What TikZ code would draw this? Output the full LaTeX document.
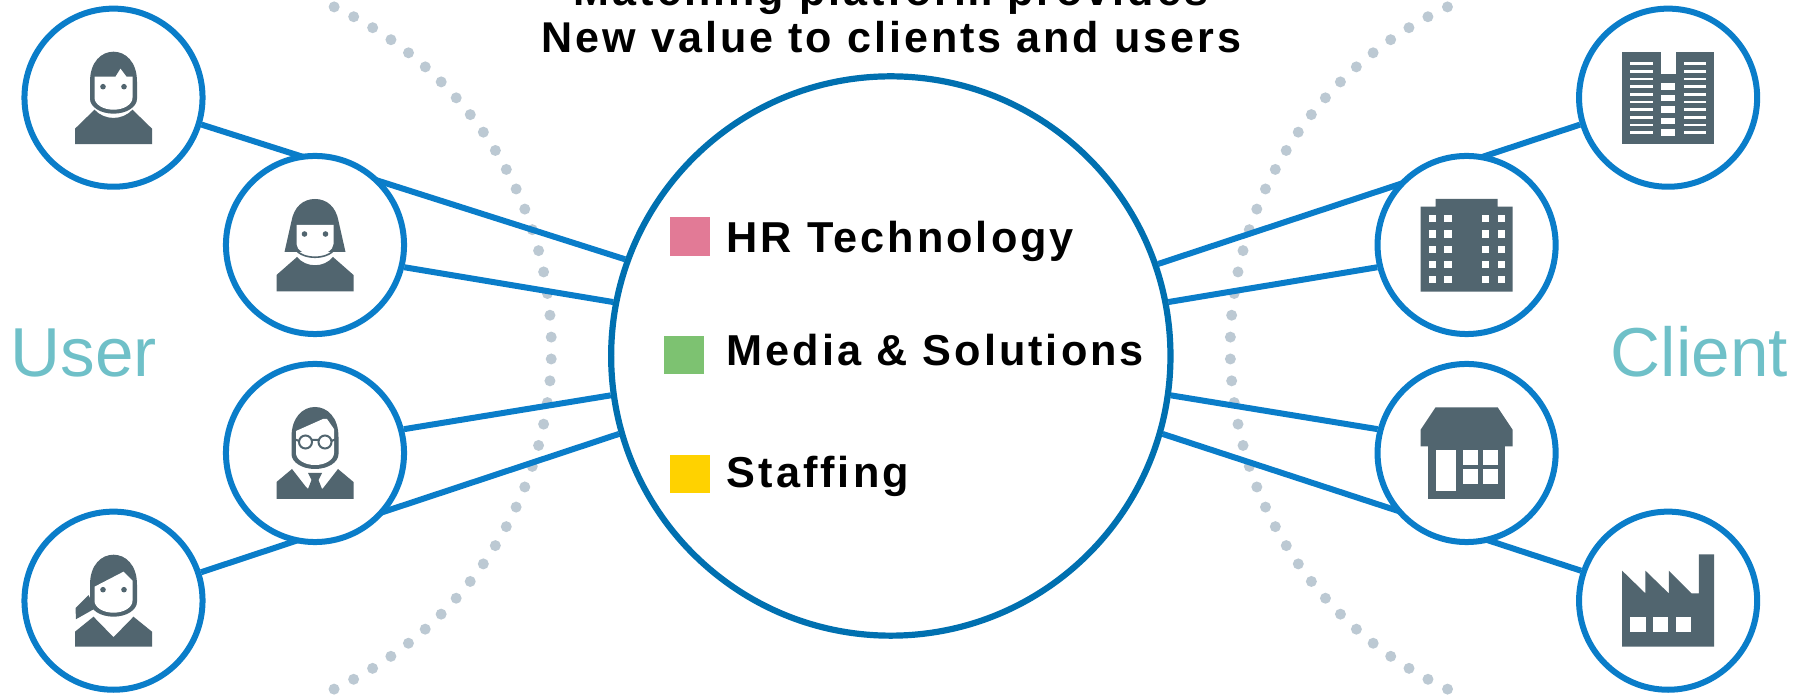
\documentclass[tikz,border=0pt]{standalone}
\usepackage{fontspec}
\setmainfont{Liberation Sans}
\newfontfamily\labelfont[LetterSpace=7]{Liberation Sans}
\usetikzlibrary{backgrounds}

\definecolor{ringBlue}{HTML}{0A7DC9}
\definecolor{hubBlue}{HTML}{0070B0}
\definecolor{iconGrey}{HTML}{51656F}
\definecolor{dotGrey}{HTML}{BCC9D3}
\definecolor{sideTeal}{HTML}{6FC0C8}
\definecolor{hrPink}{HTML}{E27A96}
\definecolor{mediaGreen}{HTML}{7DC271}
\definecolor{staffYellow}{HTML}{FFD200}

\tikzset{
	ring/.style={circle,draw=ringBlue,line width=.06cm,fill=white,inner sep=0pt,minimum size=1.78cm},
	hubring/.style={circle,draw=hubBlue,line width=.062cm,fill=white,inner sep=0pt,minimum size=5.59cm},
	link/.style={ringBlue,line width=.06cm},
	swatch/.style={inner sep=0pt,minimum width=.4cm,minimum height=.38cm},
	entry/.style={anchor=base west,inner sep=0pt,font=\labelfont\bfseries\fontsize{12.3pt}{14pt}\selectfont},
	headline/.style={anchor=base,inner sep=0pt,font=\labelfont\bfseries\fontsize{12.25pt}{14pt}\selectfont},
	side/.style={anchor=base west,inner sep=0pt,text=sideTeal,font=\fontsize{19.7pt}{23pt}\selectfont},
	icon/.style={fill=iconGrey},
	gap/.style={fill=white}
}

% head with a face cut out, used by all four people
\newcommand\headShape{\fill[icon] (-23.5,16) .. controls (-23.5,36) and (-12,46) .. (0,46) .. controls (12,46) and (23.5,36) .. (23.5,16) -- (23.5,-1) arc[start angle=0,end angle=-180,x radius=23.5,y radius=15] -- cycle;}
\newcommand\eyePair[1]{\fill[icon] (-10.5,#1) circle[radius=2.8] (10.5,#1) circle[radius=2.8];}
\newcommand\plainBody{\fill[icon] (-38.5,-46.5) -- (-38.5,-31) -- (-19,-12) .. controls (-9,-23) and (9,-23) .. (19,-12) -- (38.5,-31) -- (38.5,-46.5) -- cycle;}

\begin{document}
\begin{tikzpicture}[x=.01cm,y=.01cm]
	\useasboundingbox (0,0) rectangle (1806,697);

	\node[hubring] (hub) at (890.8,341) {};

	\node[ring] (u1) at (113.5,599.3) {};
	\node[ring] (u2) at (315,452) {};
	\node[ring] (u3) at (315,244) {};
	\node[ring] (u4) at (113.5,96.3) {};

	\node[ring] (c1) at (1668.1,599.3) {};
	\node[ring] (c2) at (1466.6,452) {};
	\node[ring] (c3) at (1466.6,244) {};
	\node[ring] (c4) at (1668.1,96.3) {};

	\begin{scope}[on background layer]
		\foreach \a in {-65,-61.667,...,65}
		{
			\fill[dotGrey] (175,349) ++(\a:376.4) circle[radius=5.5];
			\fill[dotGrey] (1606.6,349) ++(180-\a:376.4) circle[radius=5.5];
		}
		\foreach \p/\q in {u1.-17.5/hub.160.7, u2.-14.6/hub.169.1, u3.15/hub.188, u4.18.4/hub.196.4,
			c1.197.5/hub.19.3, c2.194.6/hub.11.5, c3.165/hub.-8, c4.161.6/hub.-16.4}
			\draw[link] (\p) -- (\q);
	\end{scope}

	% people
	\begin{scope}[shift={(u1)}]
		\plainBody
		\headShape
		\fill[gap] (-19,21) -- (2,21) -- (7,29) -- (13,21) -- (19,21) -- (19,0) arc[start angle=0,end angle=-180,x radius=19,y radius=12] -- cycle;
		\eyePair{11}
	\end{scope}
	\begin{scope}[shift={(u2)}]
		\fill[icon] (-30.5,-7) -- (-23.5,24) .. controls (-21,38) and (-12,46) .. (0,46) .. controls (12,46) and (21,38) .. (23.5,24) -- (30.5,-7) -- cycle;
		\fill[icon] (-38.5,-46.5) -- (-38.5,-30) -- (-18,-12) .. controls (-9,-23) and (9,-23) .. (18,-12) -- (38.5,-30) -- (38.5,-46.5) -- cycle;
		\fill[gap] (-18.5,20) -- (18.5,20) -- (18.5,1) arc[start angle=0,end angle=-180,x radius=18.5,y radius=11] -- cycle;
		\draw[iconGrey,line width=.016cm] (-20,-4) .. controls (-12,-15) and (12,-15) .. (20,-4);
		\eyePair{11}
	\end{scope}
	\begin{scope}[shift={(u3)}]
		\fill[icon] (-38.5,-46) -- (-38.5,-29) -- (-23,-16) -- (-9,-34) -- (-7,-36) -- (7,-36) -- (9,-34) -- (23,-16) -- (38.5,-29) -- (38.5,-46) -- cycle;
		\fill[icon] (-7,-20) -- (7,-20) -- (3.5,-27) -- (7,-36) -- (-7,-36) -- (-3.5,-27) -- cycle;
		\headShape
		\fill[gap] (-19,22) -- (8,34) -- (12,34) -- (19,24) -- (19,0) arc[start angle=0,end angle=-180,x radius=19,y radius=12] -- cycle;
		\draw[iconGrey,line width=.02cm,fill=white] (-9.5,11) circle[radius=6.5] (10,11) circle[radius=6.5];
		\draw[iconGrey,line width=.02cm] (-3,13) -- (3.5,13) (-16,12) -- (-21,14) (16.5,12) -- (21,14);
	\end{scope}
	\begin{scope}[shift={(u4)}]
		\fill[icon] (-38.5,-46) -- (-38.5,-31) -- (-20,-16) -- (0,-36.5) -- (20,-16) -- (38.5,-31) -- (38.5,-46) -- cycle;
		\fill[icon] (-38,-7.5) -- (-25,5.5) -- (-18,-7.5) -- (-37.5,-18.5) -- cycle;
		\headShape
		\fill[gap] (-19,14) -- (10,29) -- (19,20) -- (19,0) arc[start angle=0,end angle=-180,x radius=19,y radius=12] -- cycle;
		\eyePair{11}
	\end{scope}

	% buildings
	\begin{scope}[shift={(c1)}]
		\fill[icon] (-46,-46) rectangle (46,46);
		\fill[gap] (-7.3,23.7) rectangle (7.7,47);
		\foreach \y in {0,...,9}
		{
			\fill[gap] (-38.3,35.4-\y*7.67) rectangle (-15,32.7-\y*7.67);
			\fill[gap] (16,35.4-\y*7.67) rectangle (38.3,32.7-\y*7.67);
		}
		\foreach \y in {0,...,4}
			\fill[gap] (-7.3,14.4-\y*11.5) rectangle (7.3,7.7-\y*11.5);
	\end{scope}
	\begin{scope}[shift={(c2)}]
		\fill[icon] (-46,-46.7) -- (-46,38.3) -- (-31,38.3) -- (-31,46) -- (31,46) -- (31,38.3) -- (46,38.3) -- (46,-46.7) -- cycle;
		\foreach \x in {-34.3,-18.7,19,34.7}
			\foreach \y in {26.3,11,-4.3,-19.3,-34.3}
				\fill[gap] (\x-3.7,\y-3.7) rectangle (\x+3.7,\y+3.7);
	\end{scope}
	\begin{scope}[shift={(c3)}]
		\fill[icon] (-38.5,-46) rectangle (38.5,10);
		\fill[icon] (-46,6.7) -- (-46,23.3) -- (-31,45.7) -- (31,45.7) -- (46,23.3) -- (46,6.7) -- cycle;
		\fill[gap] (-31,3.3) rectangle (-11,-38.3);
		\foreach \x in {-3.3,16}
			\foreach \y in {3.3,-15.7}
				\fill[gap] (\x,\y) rectangle (\x+15,\y-15.2);
	\end{scope}
	\begin{scope}[shift={(c4)}]
		\fill[icon] (-46,-46) -- (-46,30) -- (-22.7,7.3) -- (-22.7,30) -- (.7,7.3) -- (.7,30) -- (23.3,7.3) -- (30.7,7.3) -- (30.7,46.3) -- (46,46.3) -- (46,-46) -- cycle;
		\foreach \x in {-37.7,-15,7.9}
			\fill[gap] (\x,-16) rectangle (\x+15.2,-31);
	\end{scope}

	\node[headline] (title1) at (891,691.5) {Matching platform provides};
	\node[headline] (title2) at (891.5,644) {New value to clients and users};

	\node[swatch,fill=hrPink] (s1) at (690,460.5) {};
	\node[swatch,fill=mediaGreen] (s2) at (684.2,342) {};
	\node[swatch,fill=staffYellow] (s3) at (690,223.2) {};

	\node[entry] (e1) at (726,444) {HR Technology};
	\node[entry] (e2) at (726,331.5) {Media \& Solutions};
	\node[entry] (e3) at (726,209.5) {Staffing};

	\node[side] (user) at (10,320) {User};
	\node[side] (client) at (1610,320) {Client};
\end{tikzpicture}
\end{document}
